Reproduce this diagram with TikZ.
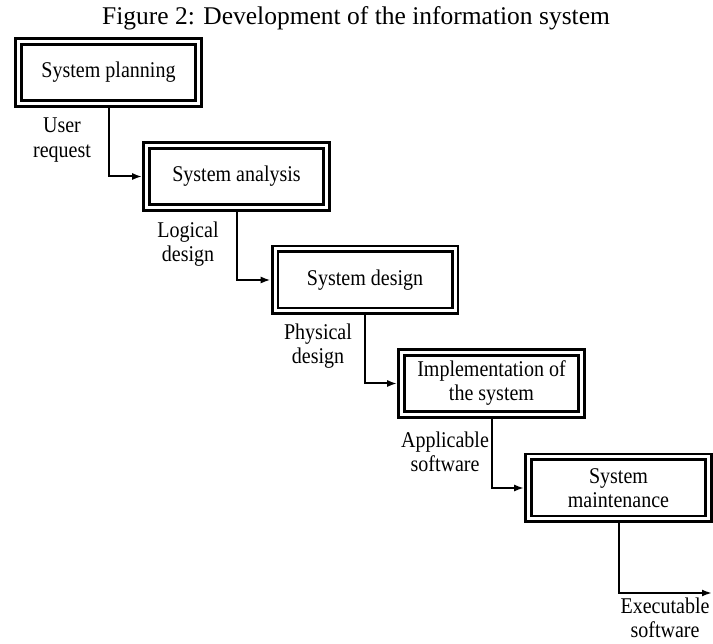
\documentclass[tikz,border=0pt]{standalone}
\usepackage{fontspec}
\setmainfont{Liberation Serif}
\newfontfamily\narrowserif[FakeStretch=0.89]{Liberation Serif}
\usetikzlibrary{arrows.meta}
\begin{document}
\begin{tikzpicture}[x=1pt,y=-1pt,
  stage/.style={draw, double, line width=2.6pt, double distance=3pt,
    minimum width=180pt, minimum height=62pt, inner sep=0pt, outer sep=4.3pt,
    align=center, font=\narrowserif\fontsize{22.5}{24}\selectfont},
  lbl/.style={align=center, inner sep=0pt, font=\narrowserif\fontsize{22.5}{24.5}\selectfont},
  flow/.style={line width=2pt, -{Latex[length=10pt,width=7pt]}}]
\useasboundingbox (0,0) rectangle (713,644);
\node[font=\fontsize{25.5}{28}\selectfont] (title) at (356,18) {Figure 2: Development of the information system};
\node[stage] (a) at (108.5,72.5) {System planning};
\node[stage] (b) at (236.5,176.5) {System analysis};
\node[stage] (c) at (365,280) {System design};
\node[stage] (d) at (491.5,383.5) {Implementation of\\the system};
\node[stage] (e) at (618.5,488) {System\\maintenance};
\coordinate (out) at (712,593);
\draw[flow] (a.south) |- (b.west);
\draw[flow] (b.south) |- (c.west);
\draw[flow] (c.south) |- (d.west);
\draw[flow] (d.south) |- (e.west);
\draw[flow] (e.south) |- (out);
\node[lbl] (l1) at (62,140) {User\\request};
\node[lbl] (l2) at (188,244) {Logical\\design};
\node[lbl] (l3) at (318,346) {Physical\\design};
\node[lbl] (l4) at (445,452) {Applicable\\software};
\node[lbl] (l5) at (665,618) {Executable\\software};
\end{tikzpicture}
\end{document}
